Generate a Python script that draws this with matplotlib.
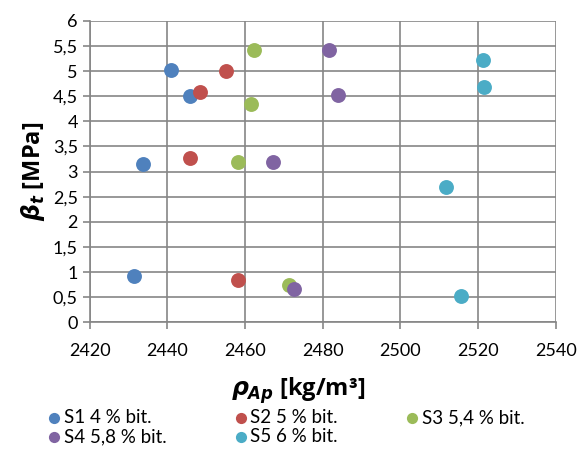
import matplotlib
matplotlib.use("Agg")
import matplotlib.pyplot as plt

plt.rcParams['font.family'] = ['Lato', 'DejaVu Sans']
plt.rcParams['mathtext.fontset'] = 'custom'
plt.rcParams['mathtext.it'] = 'DejaVu Sans:italic:bold'
plt.rcParams['mathtext.rm'] = 'DejaVu Sans:bold'

series_names = ["S1 4 % bit.", "S2 5 % bit.", "S3 5,4 % bit.", "S4 5,8 % bit.", "S5 6 % bit."]
s1_x = [2440.8, 2445.8, 2433.7, 2431.4]
s1_y = [5.03, 4.50, 3.16, 0.92]
s2_x = [2455.1, 2448.4, 2445.8, 2458.1]
s2_y = [5.00, 4.59, 3.28, 0.84]
s3_x = [2462.4, 2461.6, 2458.1, 2471.4]
s3_y = [5.41, 4.34, 3.19, 0.74]
s4_x = [2481.7, 2483.8, 2467.3, 2472.7]
s4_y = [5.42, 4.52, 3.20, 0.66]
s5_x = [2521.3, 2521.6, 2511.7, 2515.7]
s5_y = [5.22, 4.69, 2.70, 0.52]
colors = ["#4F81BD", "#C0504D", "#9BBB59", "#8064A2", "#4BACC6"]

x_ticks = [2420, 2440, 2460, 2480, 2500, 2520, 2540]
y_ticks = [0, 0.5, 1, 1.5, 2, 2.5, 3, 3.5, 4, 4.5, 5, 5.5, 6]
y_labels = ["0", "0,5", "1", "1,5", "2", "2,5", "3", "3,5", "4", "4,5", "5", "5,5", "6"]

fig = plt.figure(figsize=(5.79, 4.53), dpi=100)
ax = fig.add_axes([0.155, 0.2885, 0.805, 0.6655])

xs = [s1_x, s2_x, s3_x, s4_x, s5_x]
ys = [s1_y, s2_y, s3_y, s4_y, s5_y]
handles = []
for x, y, c, n in zip(xs, ys, colors, series_names):
    h = ax.scatter(x, y, s=115, color=c, label=n, zorder=3, linewidths=0)
    handles.append(h)

ax.set_xlim(2420, 2540)
ax.set_ylim(0, 6)
ax.set_xticks(x_ticks)
ax.set_yticks(y_ticks)
ax.set_yticklabels(y_labels)
ax.grid(True, color="#868686", linewidth=1.2, zorder=0)
ax.set_axisbelow(True)
for s in ["top", "right"]:
    ax.spines[s].set_visible(False)
ax.spines["left"].set_color("#868686")
ax.spines["bottom"].set_color("#868686")
ax.spines["left"].set_linewidth(1.2)
ax.spines["bottom"].set_linewidth(1.2)
ax.tick_params(axis="both", colors="#868686", labelcolor="black", labelsize=13, length=5, width=1.2)
ax.tick_params(axis="x", pad=10)

ax.set_ylabel(r"$\beta_t$ [MPa]", fontsize=17, fontweight="bold", family=["Open Sans", "DejaVu Sans"], labelpad=4)
fig.text(0.515, 0.138, r"$\rho_{Ap}$ [kg/m³]", fontsize=17, fontweight="bold",
         family=["Open Sans", "DejaVu Sans"], ha="center", va="center")

order = [0, 3, 1, 4, 2]
leg = fig.legend([handles[i] for i in order], [series_names[i] for i in order],
                 loc="lower left", bbox_to_anchor=(0.055, -0.012), ncol=3, frameon=False,
                 fontsize=13.5, handletextpad=0.0, columnspacing=3.48, markerscale=0.75,
                 labelspacing=0.12, handlelength=1.0, borderaxespad=0.3)

fig.savefig("out.png", dpi=100)
